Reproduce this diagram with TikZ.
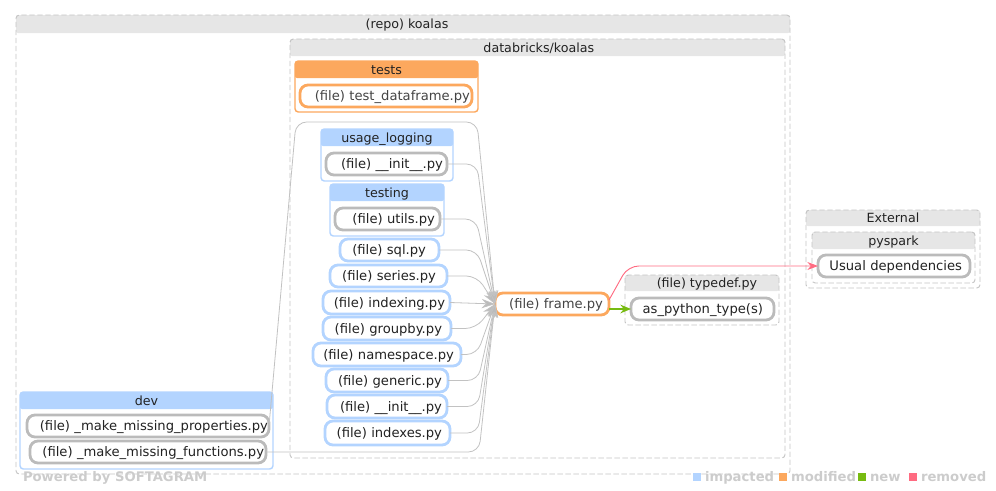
\documentclass[tikz,border=0pt]{standalone}
\usepackage{fontspec}
\setmainfont{DejaVu Sans}
\usetikzlibrary{arrows.meta,calc}
\definecolor{impacted}{HTML}{B3D4FF}
\definecolor{modified}{HTML}{FCA85E}
\definecolor{newc}{HTML}{77BB11}
\definecolor{removed}{HTML}{FF6B81}
\definecolor{titlegray}{HTML}{E6E6E6}
\definecolor{borderg}{HTML}{C4C4C4}
\definecolor{fileg}{HTML}{BBBBBB}
\definecolor{edgeg}{HTML}{C2C2C2}
\definecolor{inkc}{HTML}{222222}
\definecolor{inkm}{HTML}{444444}
\definecolor{legendg}{HTML}{CCCCCC}
\tikzset{
  every node/.style={font=\fontsize{9.85pt}{11pt}\selectfont, outer sep=0pt, text=inkc},
  txt/.style={text height=8.7pt, text depth=1.9pt, inner ysep=0pt},
  clusterbox/.style={draw=borderg, dash pattern=on 4pt off 2pt, line width=0.7pt, rounded corners=2.5pt},
  bluebox/.style={draw=impacted, line width=1.1pt, rounded corners=2.5pt},
  orangebox/.style={draw=modified, line width=1.1pt, rounded corners=2.5pt},
  titlefont/.style={font=\fontsize{9.5pt}{11pt}\selectfont},
  graytitle/.style={titlefont, fill=titlegray, rounded corners=1.5pt},
  bluetitle/.style={titlefont, fill=impacted, rounded corners=1.5pt},
  orangetitle/.style={titlefont, fill=modified, rounded corners=1.5pt},
  graybox/.style={draw=fileg, line width=2.1pt, rounded corners=6pt, fill=white},
  blueitem/.style={draw=impacted, line width=2.1pt, rounded corners=6pt, fill=white},
  orangeitem/.style={draw=modified, line width=2.1pt, rounded corners=6pt, fill=white, text=inkm},
  dep/.style={draw=edgeg, line width=0.6pt, rounded corners=8pt, -{Stealth[length=10pt,width=7pt,fill=fileg]}},
  newdep/.style={draw=newc, line width=1.1pt, -{Stealth[length=8pt,width=6.5pt,fill=newc]}},
  remdep/.style={draw=removed, line width=0.7pt, rounded corners=8pt, -{Stealth[length=8pt,width=6pt,fill=removed]}},
  legendtext/.style={font=\fontsize{9.9pt}{11pt}\selectfont\bfseries, text=legendg, anchor=west, inner sep=0pt, txt},
  legendsq/.style={minimum size=6pt, inner sep=0pt},
}
% name, x1, y1, x2, y2, title bottom, title, box style, title style
\newcommand{\clusterdraw}[9]{%
  \node[#9, txt, minimum width={(#4-#2)*0.75pt}, minimum height={(#6-#3)*0.75pt}, inner xsep=0pt]
     (#1t) at ({(#2+#4)/2},{(#3+#6)/2}) {#7};
  \node[#8, minimum width={(#4-#2)*0.75pt}, minimum height={(#5-#3)*0.75pt}, inner sep=0pt]
     (#1) at ({(#2+#4)/2},{(#3+#5)/2}) {};
}
% [right inset px], name, x1, y1, x2, y2, style, text
\newcommand{\fileitem}[8][0]{%
  \node[#7, txt, minimum height={(#6-#4)*0.75pt}, text width={(#5-#3-2)*0.75pt}, align=right, inner xsep=0.75pt]
     (#2) at ({(#3+#5)/2},{(#4+#6)/2}) {#8\hspace*{#1\dimexpr0.75pt\relax}};
}
\newcommand{\depedge}[2]{\draw[dep] (#1.east) -- ($(#1.east -| 0,0)+(#2,0)$) -- (frame.west);}
\begin{document}
\begin{tikzpicture}[x=0.75pt,y=-0.75pt]
\useasboundingbox (0,0) rectangle (996,490);
\clusterdraw{repo}{16}{15}{790}{474}{33}{\hspace*{6pt}(repo) koalas}{clusterbox}{graytitle}
\clusterdraw{databricks}{290}{39}{785}{458}{56}{\hspace*{2pt}databricks/koalas}{clusterbox}{graytitle}
\clusterdraw{tests}{295}{61}{478}{112}{78}{tests}{orangebox}{orangetitle}
\fileitem[1]{testdf}{300}{85}{472}{107}{orangeitem}{(file) test\_dataframe.py}
\clusterdraw{usage}{321}{129}{453}{181}{146}{usage\_logging}{bluebox}{bluetitle}
\fileitem[3]{usageinit}{326}{153}{447}{175}{graybox}{(file) \_\_init\_\_.py}
\clusterdraw{testing}{330}{184}{444}{236}{201}{testing}{bluebox}{bluetitle}
\fileitem[4]{utils}{335}{208}{440}{230}{graybox}{(file) utils.py}
\fileitem[12]{sql}{340}{239}{439}{261}{blueitem}{(file) sql.py}
\fileitem[10]{series}{330}{265}{447}{287}{blueitem}{(file) series.py}
\fileitem[4]{indexing}{323}{291}{450}{314}{blueitem}{(file) indexing.py}
\fileitem[8]{groupby}{323}{317}{451}{340}{blueitem}{(file) groupby.py}
\fileitem[6]{namespace}{313}{343}{461}{366}{blueitem}{(file) namespace.py}
\fileitem[5]{generic}{326}{369}{448}{392}{blueitem}{(file) generic.py}
\fileitem[4]{rootinit}{327}{395}{447}{418}{blueitem}{(file) \_\_init\_\_.py}
\fileitem[7]{indexes}{325}{421}{450}{445}{blueitem}{(file) indexes.py}
\fileitem[5]{frame}{495}{293}{609}{315}{orangeitem}{(file) frame.py}
\clusterdraw{typedef}{625}{275}{779}{325}{291}{\hspace*{7.5pt}(file) typedef.py}{clusterbox}{graytitle}
\fileitem[10]{aspy}{631}{298}{774}{320}{graybox}{as\_python\_type(s)}
\clusterdraw{external}{806}{210}{980}{288}{226}{External}{clusterbox}{graytitle}
\clusterdraw{pyspark}{812}{232}{975}{283}{249}{pyspark}{clusterbox}{graytitle}
\fileitem[7]{usual}{818}{255}{970}{277}{graybox}{Usual dependencies}
\clusterdraw{dev}{20}{392}{273}{469}{409}{dev}{bluebox}{bluetitle}
\fileitem{props}{27}{415}{269}{437}{graybox}{(file) \_make\_missing\_properties.py}
\fileitem[1]{funcs}{30}{441}{266}{463}{graybox}{(file) \_make\_missing\_functions.py}
% dependencies
\depedge{usageinit}{477}
\depedge{utils}{476}
\depedge{sql}{477}
\depedge{series}{477}
\draw[dep] (indexing.east) -- (frame.west);
\depedge{groupby}{476}
\depedge{namespace}{477}
\depedge{generic}{478}
\depedge{rootinit}{478}
\depedge{indexes}{478}
\depedge{funcs}{479}
\coordinate (turnA) at (296,122);
\coordinate (turnB) at (477,122);
\draw[dep] (props.east) -- (turnA) -- (turnB) -- (frame.west);
\draw[newdep] ($(frame.east)+(0,5)$) -- (aspy.west);
\coordinate (turnC) at (628,266);
\draw[remdep] ($(frame.east)+(0,-4)$) -- (turnC) -- (usual.west);
% footer
\node[legendtext, text=legendg] (powered) at (23,476.5) {Powered by SOFTAGRAM};
\node[legendsq, fill=impacted] (sqi) at (697,477) {};
\node[legendtext] (li) at (705,476.5) {impacted};
\node[legendsq, fill=modified] (sqm) at (783,477) {};
\node[legendtext] (lm) at (791,476.5) {modified};
\node[legendsq, fill=newc] (sqn) at (862,477) {};
\node[legendtext] (ln) at (870,476.5) {new};
\node[legendsq, fill=removed] (sqr) at (913,477) {};
\node[legendtext] (lr) at (921,476.5) {removed};
\end{tikzpicture}
\end{document}
